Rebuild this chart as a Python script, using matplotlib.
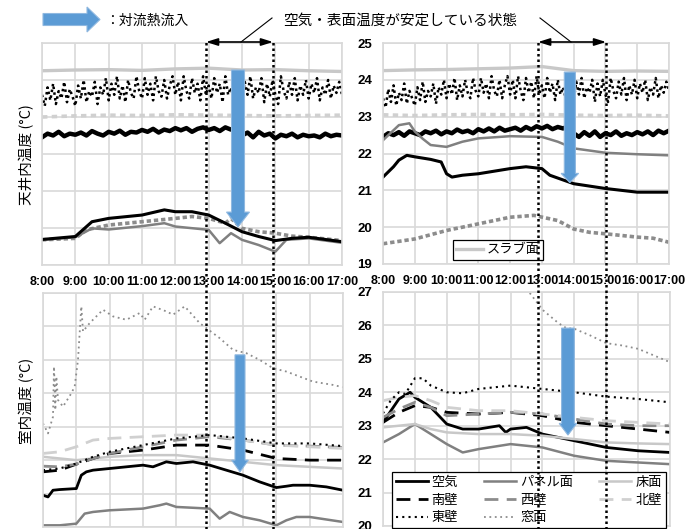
import numpy as np
import matplotlib.pyplot as plt
from matplotlib.transforms import blended_transform_factory
from matplotlib.patches import FancyArrow
from matplotlib.lines import Line2D

plt.rcParams['font.family'] = ['Noto Sans CJK JP', 'DejaVu Sans']

hours = [8, 9, 10, 11, 12, 13, 14, 15, 16, 17]
hour_labels = ['8:00', '9:00', '10:00', '11:00', '12:00', '13:00', '14:00', '15:00', '16:00', '17:00']
t10 = 8 + np.arange(55) / 6   # 10分間隔
t5 = 8 + np.arange(109) / 12  # 5分間隔

# ---- 天井内 (左上) ----
slab_L_t = [8, 9, 10, 11, 12, 13, 14, 15, 16, 17]
slab_L = [24.25, 24.27, 24.28, 24.26, 24.3, 24.32, 24.27, 24.28, 24.25, 24.23]
ldash_L = [23.0, 23.03, 23.05, 23.04, 23.06, 23.05, 23.04, 23.03, 23.04, 23.05]
dot_L = [23.6, 23.3, 23.8, 23.45, 23.9, 23.35, 23.7, 23.5, 23.95, 23.4, 23.75, 23.55,
         23.3, 23.85, 23.5, 24.0, 23.4, 23.7, 23.55, 23.95, 23.35, 23.8, 23.6, 24.05,
         23.45, 23.9, 23.6, 24.1, 23.5, 23.85, 23.4, 24.0, 23.65, 23.5, 24.1, 23.7,
         23.5, 24.05, 23.6, 23.9, 23.45, 24.1, 23.7, 23.55, 24.0, 23.5, 23.85, 24.1,
         23.6, 23.95, 23.45, 24.1, 23.7, 23.5, 24.05, 23.65, 23.9, 23.45, 24.1, 23.6,
         23.85, 23.5, 24.05, 23.65, 23.9, 23.4, 24.1, 23.6, 23.8, 23.5, 24.0, 23.7,
         23.45, 23.95, 23.6, 24.1, 23.5, 23.8, 23.65, 24.05, 23.4, 23.9, 23.55, 24.0,
         23.6, 23.35, 24.1, 23.7, 23.5, 23.95, 23.6, 24.05, 23.45, 23.85, 23.6, 24.0,
         23.5, 23.9, 23.65, 24.05, 23.45, 23.8, 23.6, 24.0, 23.5, 23.85, 23.65, 23.95,
         23.6]
blk_L = [22.45, 22.55, 22.5, 22.6, 22.48, 22.55, 22.52,
         22.58, 22.5, 22.62, 22.55, 22.5, 22.6,
         22.55, 22.63, 22.52, 22.6, 22.58, 22.65,
         22.6, 22.68, 22.58, 22.66, 22.62, 22.7,
         22.64, 22.7, 22.6, 22.68, 22.72, 22.65,
         22.7, 22.62, 22.72, 22.66, 22.68, 22.5,
         22.58, 22.45, 22.6, 22.5, 22.55, 22.42,
         22.52, 22.48, 22.55, 22.45, 22.52, 22.48,
         22.5, 22.45, 22.55, 22.48, 22.52, 22.5]
air_L_t = [8, 9, 9.5, 10, 11, 11.67, 12, 12.5, 13, 13.5, 14, 14.5, 15, 15.5, 16, 17]
air_L = [19.69, 19.77, 20.17, 20.26, 20.35, 20.49, 20.44, 20.44, 20.35, 20.13, 19.9, 19.77, 19.66, 19.72, 19.75, 19.63]
gdot_L_t = [8, 9, 9.33, 10, 11, 12, 12.5, 13, 13.5, 13.67, 14, 14.5, 15, 15.5, 16, 17]
gdot_L = [19.68, 19.72, 19.95, 20.08, 20.17, 20.26, 20.31, 20.26, 20.13, 20.26, 19.99, 19.9, 19.86, 19.78, 19.75, 19.66]
pan_L_t = [8, 9, 9.5, 10, 11, 11.67, 12, 13, 13.33, 13.67, 14, 14.5, 15, 15.33, 16, 17]
pan_L = [19.68, 19.75, 19.99, 19.96, 20.05, 20.13, 20.04, 19.95, 19.59, 19.86, 19.68, 19.54, 19.36, 19.68, 19.72, 19.6]

# ---- 天井内 (右上) ----
slab_R = [24.25, 24.27, 24.28, 24.3, 24.32, 24.36, 24.25, 24.23, 24.24, 24.23]
ldash_R = [23.05, 23.03, 23.05, 23.06, 23.05, 23.06, 23.04, 23.03, 23.04, 23.02]
dot_R = [23.5, 23.25, 23.75, 23.4, 23.85, 23.3, 23.65, 23.45, 23.9, 23.35, 23.7, 23.5,
         23.3, 23.8, 23.45, 23.95, 23.4, 23.7, 23.55, 23.9, 23.35, 23.8, 23.6, 24.0,
         23.5, 23.9, 23.6, 24.05, 23.45, 23.85, 23.55, 24.0, 23.65, 23.5, 24.05, 23.7,
         23.55, 24.05, 23.65, 23.9, 23.5, 24.1, 23.7, 23.55, 24.0, 23.5, 23.85, 24.1,
         23.6, 24.0, 23.5, 24.1, 23.7, 23.45, 24.05, 23.65, 23.95, 23.5, 24.1, 23.6,
         23.85, 23.5, 24.05, 23.65, 23.9, 23.45, 24.0, 23.6, 23.8, 23.5, 24.0, 23.7,
         23.45, 23.95, 23.6, 24.05, 23.5, 23.8, 23.65, 24.0, 23.4, 23.9, 23.55, 24.0,
         23.6, 23.4, 24.05, 23.7, 23.5, 23.95, 23.6, 24.05, 23.45, 23.85, 23.6, 24.0,
         23.5, 23.9, 23.65, 24.0, 23.45, 23.8, 23.6, 24.05, 23.5, 23.85, 23.65, 23.95,
         23.7]
blk_R = [22.45, 22.55, 22.5, 22.58, 22.48, 22.6, 22.55,
         22.5, 22.6, 22.55, 22.62, 22.52, 22.6,
         22.55, 22.65, 22.58, 22.62, 22.55, 22.66,
         22.6, 22.68, 22.6, 22.7, 22.62, 22.66,
         22.7, 22.62, 22.72, 22.65, 22.74, 22.68,
         22.75, 22.66, 22.72, 22.68, 22.74, 22.55,
         22.45, 22.58, 22.48, 22.6, 22.45, 22.55,
         22.5, 22.6, 22.48, 22.55, 22.5, 22.58,
         22.52, 22.6, 22.5, 22.62, 22.55, 22.62]
pan_R_t = [8, 8.5, 8.83, 9, 9.25, 9.5, 10, 10.5, 11, 12, 13, 13.5, 14, 15, 16, 17]
pan_R = [22.36, 22.77, 22.82, 22.6, 22.4, 22.23, 22.18, 22.32, 22.41, 22.47, 22.45, 22.32, 22.14, 22.02, 21.98, 21.95]
air_R_t = [8, 8.33, 8.5, 8.75, 9, 9.5, 9.83, 10, 10.17, 10.5, 11, 12, 12.5, 13, 13.25, 14, 15, 16, 17]
air_R = [21.36, 21.64, 21.82, 21.95, 21.91, 21.84, 21.77, 21.45, 21.36, 21.41, 21.45, 21.59, 21.64, 21.59, 21.41, 21.18, 21.05, 20.95, 20.95]
gdot_R_t = [8, 9, 10, 11, 12, 12.75, 13.5, 14, 14.5, 15, 16, 16.5, 17]
gdot_R = [19.55, 19.68, 19.91, 20.09, 20.27, 20.32, 20.18, 19.95, 19.86, 19.82, 19.73, 19.7, 19.59]

# ---- 室内 (左下) ----
win_L_t = [8, 8.15, 8.3, 8.33, 8.37, 8.4, 8.45, 8.6, 8.85, 8.95, 9.05, 9.15, 9.2, 9.4, 9.8, 10.1,
           10.5, 10.9, 11.05, 11.3, 11.7, 11.9, 12.25, 12.7, 12.9, 13.3, 13.7, 14.1, 14.5, 14.9,
           15.3, 15.7, 16.1, 16.7, 17]
win_L = [23.1, 22.8, 23.3, 24.8, 23.5, 24.5, 23.8, 23.6, 24.0, 24.2, 25.0, 26.6, 25.85, 26.1, 26.5, 26.3,
         26.2, 26.4, 26.2, 26.6, 26.45, 26.35, 26.6, 26.1, 25.95, 25.65, 25.3, 25.2, 25.0, 24.75,
         24.65, 24.5, 24.35, 24.25, 24.18]
wall_t = [8, 8.5, 9, 9.5, 10, 11, 12, 13, 14, 15, 16, 17]
north_L = [22.2, 22.25, 22.4, 22.6, 22.65, 22.7, 22.75, 22.75, 22.6, 22.45, 22.4, 22.35]
east_L = [21.7, 21.75, 21.9, 22.1, 22.25, 22.45, 22.65, 22.75, 22.65, 22.5, 22.5, 22.42]
west_L = [21.82, 21.8, 21.88, 22.05, 22.2, 22.4, 22.6, 22.7, 22.6, 22.45, 22.42, 22.38]
south_L = [21.65, 21.7, 21.88, 22.05, 22.2, 22.3, 22.45, 22.45, 22.3, 22.05, 22.0, 22.0]
floor_L = [22.1, 22.05, 22.0, 22.05, 22.1, 22.15, 22.15, 22.05, 21.95, 21.85, 21.8, 21.75]
airB_L_t = [8, 8.15, 8.3, 8.5, 9, 9.15, 9.3, 9.5, 10, 10.5, 11, 11.3, 11.7, 12, 12.5, 13, 13.5,
            14, 14.5, 15, 15.3, 15.5, 16, 16.5, 17]
airB_L = [20.95, 20.9, 21.1, 21.12, 21.15, 21.55, 21.65, 21.7, 21.75, 21.8, 21.85, 21.8, 21.95, 21.9,
          21.95, 21.85, 21.7, 21.55, 21.35, 21.18, 21.22, 21.25, 21.25, 21.2, 21.1]
panB_L_t = [8, 8.5, 9, 9.25, 9.5, 10, 11, 11.5, 11.7, 12, 13, 13.3, 13.6, 14, 14.5, 15, 15.3, 15.6, 16, 17]
panB_L = [20.05, 20.05, 20.1, 20.4, 20.45, 20.5, 20.55, 20.65, 20.7, 20.6, 20.55, 20.25, 20.45, 20.3,
          20.2, 20.05, 20.2, 20.3, 20.3, 20.15]

# ---- 室内 (右下) ----
win_R_t = [12.5, 13, 13.5, 13.75, 14, 14.5, 15, 15.5, 16, 16.5, 17]
win_R = [27.1, 26.47, 26.07, 25.92, 25.9, 25.7, 25.47, 25.4, 25.3, 25.1, 24.9]
east_R_t = [8, 8.25, 8.5, 8.7, 9, 9.25, 9.5, 10, 10.5, 11, 12, 13, 14, 15, 16, 17]
east_R = [23.37, 23.77, 24.0, 23.95, 24.42, 24.42, 24.2, 24.0, 23.97, 24.1, 24.2, 24.1, 24.0, 23.87, 23.8, 23.7]
airB_R_t = [8, 8.5, 8.85, 9, 9.5, 10, 10.5, 11, 11.65, 11.85, 12, 12.5, 13, 14, 15, 16, 17]
airB_R = [23.1, 23.8, 24.0, 23.85, 23.55, 23.05, 22.9, 22.9, 23.0, 22.8, 22.9, 22.95, 22.75, 22.55, 22.35, 22.25, 22.2]
south_R = [23.1, 23.4, 23.6, 23.55, 23.4, 23.35, 23.4, 23.3, 23.1, 23.0, 22.9, 22.8]
west_R = [23.25, 23.5, 23.7, 23.55, 23.3, 23.35, 23.4, 23.35, 23.2, 23.05, 23.0, 23.0]
north_R = [23.75, 23.85, 23.9, 23.75, 23.55, 23.45, 23.45, 23.35, 23.25, 23.15, 23.1, 23.05]
floor_R = [22.95, 23.0, 23.05, 22.9, 22.8, 22.75, 22.75, 22.7, 22.6, 22.5, 22.47, 22.45]
panB_R_t = [8, 8.5, 9, 9.5, 10, 10.5, 11, 12, 13, 14, 15, 16, 17]
panB_R = [22.5, 22.75, 23.05, 22.75, 22.45, 22.2, 22.3, 22.45, 22.35, 22.1, 21.95, 21.9, 21.85]

BLACK = 'black'
GRAY = '#808080'
LGRAY = '#c8c8c8'
BLUE = '#5b9bd5'

fig = plt.figure(figsize=(6.99, 5.29), dpi=100)
W, H = 699, 529
def rect(x0, x1, y0, y1):
    return [x0 / W, 1 - y1 / H, (x1 - x0) / W, (y1 - y0) / H]

ax_tl = fig.add_axes(rect(42, 342, 43, 265))
ax_tr = fig.add_axes(rect(383, 669, 43, 264))
ax_bl = fig.add_axes(rect(43, 343, 293, 527))
ax_br = fig.add_axes(rect(383, 670, 292, 526))

def setup(ax, ylim, show_y, show_x):
    ax.set_xlim(8, 17)
    ax.set_ylim(*ylim)
    ax.set_xticks(hours)
    ax.set_yticks(range(ylim[0], ylim[1] + 1))
    ax.grid(color='#d9d9d9', lw=1.2)
    ax.set_axisbelow(True)
    for s in ax.spines.values():
        s.set_color('#d9d9d9')
        s.set_linewidth(1.2)
    ax.tick_params(length=0, pad=8)
    if show_x:
        ax.set_xticklabels(hour_labels, fontsize=9, fontweight='bold', family='Liberation Sans')
    else:
        ax.set_xticklabels([])
    if show_y:
        ax.set_yticklabels([str(v) for v in range(ylim[0], ylim[1] + 1)], fontsize=9.5,
                           fontweight='bold', family='Liberation Sans')
    else:
        ax.set_yticklabels([])
    ax.patch.set_alpha(0)

setup(ax_tl, (19, 25), False, True)
setup(ax_tr, (19, 25), True, True)
setup(ax_bl, (20, 27), False, False)
setup(ax_br, (20, 27), True, False)

# 天井内
for ax, slab, ldash, dot, blk in [(ax_tl, slab_L, ldash_L, dot_L, blk_L), (ax_tr, slab_R, ldash_R, dot_R, blk_R)]:
    ax.plot(slab_L_t, slab, color=LGRAY, lw=2.4, label='スラブ面')
    ax.plot(slab_L_t, ldash, color='#d0d0d0', lw=2.6, linestyle=(0, (1.5, 1.2)))
    ax.plot(t5, dot, color=BLACK, lw=1.8, linestyle=(0, (1, 1.3)))
    ax.plot(t10, blk, color=BLACK, lw=3.2)

ax_tl.plot(gdot_L_t, gdot_L, color='#8c8c8c', lw=2.6, linestyle=(0, (1.2, 0.8)))
ax_tl.plot(pan_L_t, pan_L, color=GRAY, lw=1.8)
ax_tl.plot(air_L_t, air_L, color=BLACK, lw=2.2)
ax_tr.plot(gdot_R_t, gdot_R, color='#8c8c8c', lw=2.6, linestyle=(0, (1.2, 0.8)))
ax_tr.plot(pan_R_t, pan_R, color=GRAY, lw=1.8)
ax_tr.plot(air_R_t, air_R, color=BLACK, lw=2.2)

leg1 = ax_tr.legend(handles=ax_tr.lines[:1], loc='upper left', bbox_to_anchor=(453 / W, 1 - 240 / H),
                    bbox_transform=fig.transFigure, fontsize=9.5, frameon=True, fancybox=False,
                    edgecolor='black', framealpha=1, handlelength=2.0, handletextpad=0.3,
                    borderpad=0.25, borderaxespad=0)
leg1.get_frame().set_linewidth(0.9)

# 室内
def room(ax, air_t, air, pan_t, pan, floor, south, west, north, east_t, east, win_t, win):
    h = {}
    h['空気'], = ax.plot(air_t, air, color=BLACK, lw=2.0)
    h['パネル面'], = ax.plot(pan_t, pan, color=GRAY, lw=1.8)
    h['床面'], = ax.plot(wall_t, floor, color=LGRAY, lw=1.8)
    h['南壁'], = ax.plot(wall_t, south, color=BLACK, lw=2.0, linestyle=(0, (5, 3)))
    h['西壁'], = ax.plot(wall_t, west, color='#8c8c8c', lw=2.0, linestyle=(0, (5, 3)))
    h['北壁'], = ax.plot(wall_t, north, color='#d0d0d0', lw=2.0, linestyle=(0, (5, 3)))
    h['東壁'], = ax.plot(east_t, east, color=BLACK, lw=1.5, linestyle=(0, (1, 2)))
    h['窓面'], = ax.plot(win_t, win, color='#8c8c8c', lw=1.3, linestyle=(0, (1, 2)))
    return h

room(ax_bl, airB_L_t, airB_L, panB_L_t, panB_L, floor_L, south_L, west_L, north_L, wall_t, east_L, win_L_t, win_L)
hb = room(ax_br, airB_R_t, airB_R, panB_R_t, panB_R, floor_R, south_R, west_R, north_R, east_R_t, east_R, win_R_t, win_R)

order = ['空気', '南壁', '東壁', 'パネル面', '西壁', '窓面', '床面', '北壁']
leg2 = ax_br.legend([hb[k] for k in order], order, loc='upper left', ncol=3,
                    bbox_to_anchor=(392 / W, 1 - 472 / H), bbox_transform=fig.transFigure,
                    fontsize=9.5, frameon=True, fancybox=False, edgecolor='black', framealpha=1,
                    handlelength=2.4, handletextpad=0.3, columnspacing=2.0, labelspacing=0.35,
                    borderpad=0.3, borderaxespad=0)
leg2.get_frame().set_linewidth(0.9)

# 対流熱流入の矢印
for ax, x, y0, y1, w, hw, hl in [(ax_tl, 13.88, 24.27, 20.03, 0.39, 0.69, 0.4),
                                  (ax_tr, 13.88, 24.21, 21.21, 0.35, 0.55, 0.25),
                                  (ax_bl, 13.91, 25.15, 21.65, 0.30, 0.50, 0.35),
                                  (ax_br, 13.80, 25.92, 22.72, 0.40, 0.55, 0.35)]:
    ax.add_patch(FancyArrow(x, y0, 0, y1 - y0, width=w, head_width=hw, head_length=hl,
                            length_includes_head=True, color=BLUE, ec='#8fb8e0', lw=0.8,
                            zorder=6, clip_on=False))

# 安定状態の範囲
y_arr = 1 - 42 / H
for ax, ta, tb in [(ax_tl, 12.92, 14.93), (ax_tr, 12.88, 15.02)]:
    tr = blended_transform_factory(ax.transData, fig.transFigure)
    for t in (ta, tb):
        fig.add_artist(Line2D([t, t], [0, y_arr], transform=tr, color='black', lw=1.8,
                              linestyle=(0, (1, 1.2)), zorder=7))
    ax.annotate('', xy=(tb, y_arr), xytext=(ta, y_arr), xycoords=tr, textcoords=tr,
                arrowprops=dict(arrowstyle='<|-|>,head_length=0.7,head_width=0.22', color='black',
                                lw=1.2, shrinkA=0, shrinkB=0), annotation_clip=False)

fig.add_artist(Line2D([272 / W, 241 / W], [1 - 18 / H, 1 - 42 / H], color='black', lw=0.8))
fig.add_artist(Line2D([540 / W, 571 / W], [1 - 18 / H, 1 - 42 / H], color='black', lw=0.8))
fig.text(400 / W, 1 - 21 / H, '空気・表面温度が安定している状態', ha='center', va='center', fontsize=10.5)

# 凡例の青矢印
fig.add_artist(FancyArrow(43 / W, 1 - 19.5 / H, 57 / W, 0, width=12 / H, head_width=25 / H,
                          head_length=13 / W, length_includes_head=True, color=BLUE, ec='#8fb8e0',
                          lw=0.8, transform=fig.transFigure))
fig.text(105 / W, 1 - 21 / H, '：対流熱流入', ha='left', va='center', fontsize=10)

fig.text(27 / W, 1 - 155 / H, '天井内温度 (°C)', rotation=90, ha='center', va='center', fontsize=10.5)
fig.text(27 / W, 1 - 401 / H, '室内温度 (°C)', rotation=90, ha='center', va='center', fontsize=10.5)

fig.savefig('out.png', dpi=100)
